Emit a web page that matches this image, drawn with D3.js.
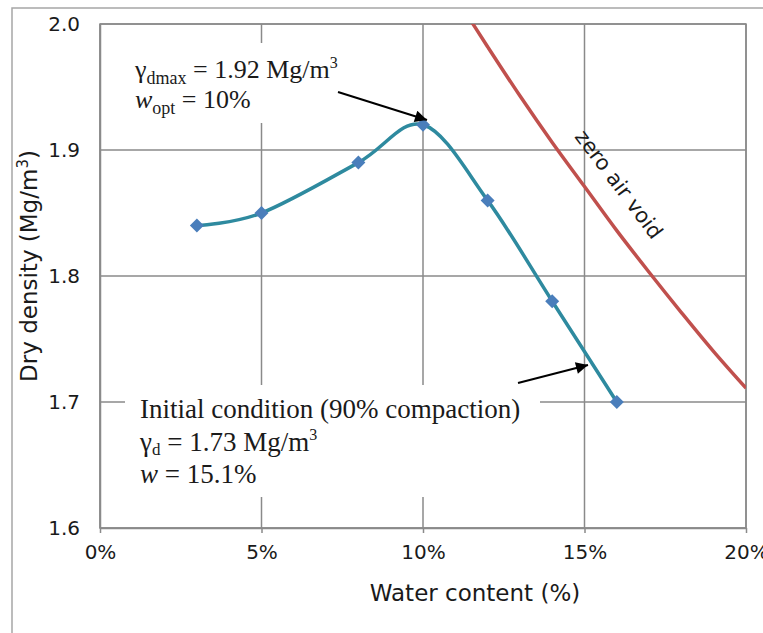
<!DOCTYPE html>
<html>
<head>
<meta charset="utf-8">
<script src="https://cdn.jsdelivr.net/npm/d3@7"></script>
<style>
  html, body { margin: 0; padding: 0; background: #fff; }
  svg { display: block; }
</style>
</head>
<body>
<svg id="chart" width="763" height="633"></svg>
<script>
// ---- data ----
const waterContent = [3, 5, 8, 10, 12, 14, 16];            // %
const dryDensity   = [1.84, 1.85, 1.89, 1.92, 1.86, 1.78, 1.70]; // Mg/m3
const zavWater     = [11, 12, 13, 14, 15, 16, 17, 18, 19, 20];
const zavDensity   = [2.022, 1.982, 1.943, 1.906, 1.871, 1.836, 1.803, 1.771, 1.740, 1.711];
const xTickValues  = [0, 5, 10, 15, 20];
const xTickLabels  = ["0%", "5%", "10%", "15%", "20%"];
const yTickValues  = [1.6, 1.7, 1.8, 1.9, 2.0];
const yTickLabels  = ["1.6", "1.7", "1.8", "1.9", "2.0"];

const svg = d3.select("#chart");
const L = 100, R = 746, T = 24, B = 528;
const x = d3.scaleLinear().domain([0, 20]).range([L, R]);
const y = d3.scaleLinear().domain([1.6, 2.0]).range([B, T]);
const grid = "#8a8a8a";
const sans = "'DejaVu Sans', Verdana, sans-serif";
const serif = "'Liberation Serif', 'Times New Roman', serif";

// outer chart frame
svg.append("rect").attr("x", 12).attr("y", 8).attr("width", 780).attr("height", 660)
  .attr("fill", "none").attr("stroke", "#a6a6a6").attr("stroke-width", 1.5);

// plot area border
svg.append("rect").attr("x", L).attr("y", T).attr("width", R - L).attr("height", B - T)
  .attr("fill", "none").attr("stroke", grid).attr("stroke-width", 1.5);

// gridlines
svg.append("g").selectAll("line").data(xTickValues).join("line")
  .attr("x1", d => x(d)).attr("x2", d => x(d)).attr("y1", T).attr("y2", B)
  .attr("stroke", grid).attr("stroke-width", 1.5);
svg.append("g").selectAll("line").data(yTickValues).join("line")
  .attr("x1", L).attr("x2", R).attr("y1", d => y(d)).attr("y2", d => y(d))
  .attr("stroke", grid).attr("stroke-width", 1.5);

// x axis
const xAxis = svg.append("g").attr("transform", `translate(0,${B})`)
  .call(d3.axisBottom(x).tickValues(xTickValues).tickFormat((d, i) => xTickLabels[i])
    .tickSizeInner(5).tickSizeOuter(0).tickPadding(12));
xAxis.select(".domain").attr("stroke", grid).attr("stroke-width", 1.5);
xAxis.selectAll(".tick line").attr("stroke", grid).attr("stroke-width", 1.5);
xAxis.selectAll(".tick text").attr("font-family", sans).attr("font-size", 20).attr("fill", "#1a1a1a");

// y axis
const yAxis = svg.append("g").attr("transform", `translate(${L},0)`)
  .call(d3.axisLeft(y).tickValues(yTickValues).tickFormat((d, i) => yTickLabels[i])
    .tickSize(0).tickPadding(20));
yAxis.select(".domain").attr("stroke", grid).attr("stroke-width", 1.5);
yAxis.selectAll(".tick text").attr("font-family", sans).attr("font-size", 20).attr("fill", "#1a1a1a");

// axis titles
svg.append("text").attr("x", 475).attr("y", 601).attr("text-anchor", "middle")
  .attr("font-family", sans).attr("font-size", 23).attr("fill", "#1a1a1a")
  .text("Water content (%)");
const yt = svg.append("text").attr("transform", "translate(37,266) rotate(-90)")
  .attr("text-anchor", "middle").attr("font-family", sans).attr("font-size", 23).attr("fill", "#1a1a1a");
yt.append("tspan").text("Dry density (Mg/m");
yt.append("tspan").attr("font-size", 15).attr("dy", -9).text("3");
yt.append("tspan").attr("dy", 9).text(")");

// white text-box backgrounds
svg.append("rect").attr("x", 125).attr("y", 43).attr("width", 270).attr("height", 80).attr("fill", "#fff");
svg.append("rect").attr("x", 125).attr("y", 385).attr("width", 415).attr("height", 112).attr("fill", "#fff");

// clip
svg.append("defs").append("clipPath").attr("id", "plotclip")
  .append("rect").attr("x", L).attr("y", T).attr("width", R - L).attr("height", B - T);

// zero air void curve
const zav = zavWater.map((w, i) => [w, zavDensity[i]]);
svg.append("path").datum(zav).attr("clip-path", "url(#plotclip)")
  .attr("fill", "none").attr("stroke", "#c0504d").attr("stroke-width", 3.5)
  .attr("d", d3.line().x(d => x(d[0])).y(d => y(d[1])).curve(d3.curveCatmullRom.alpha(0.5)));

svg.append("text").attr("transform", "translate(618,185) rotate(53)")
  .attr("text-anchor", "middle").attr("dominant-baseline", "middle")
  .attr("font-family", sans).attr("font-size", 21).attr("fill", "#1a1a1a")
  .text("zero air void");

// compaction curve
const comp = waterContent.map((w, i) => [w, dryDensity[i]]);
svg.append("path").datum(comp)
  .attr("fill", "none").attr("stroke", "#2e8a9f").attr("stroke-width", 3.5)
  .attr("d", d3.line().x(d => x(d[0])).y(d => y(d[1])).curve(d3.curveCardinal.tension(0)));
svg.append("g").selectAll("path").data(comp).join("path")
  .attr("transform", d => `translate(${x(d[0])},${y(d[1])})`)
  .attr("d", "M0,-7 L7,0 L0,7 L-7,0 Z").attr("fill", "#4a7ebb");

// arrows
svg.select("defs").append("marker").attr("id", "arr").attr("viewBox", "0 0 10 10")
  .attr("refX", 10).attr("refY", 5).attr("markerWidth", 7).attr("markerHeight", 6)
  .attr("markerUnits", "strokeWidth").attr("orient", "auto")
  .append("path").attr("d", "M0,0 L10,5 L0,10 Z").attr("fill", "#000");
svg.append("line").attr("x1", 338).attr("y1", 92).attr("x2", 427).attr("y2", 120)
  .attr("stroke", "#000").attr("stroke-width", 2).attr("marker-end", "url(#arr)");
svg.append("line").attr("x1", 518).attr("y1", 383).attr("x2", 588).attr("y2", 365)
  .attr("stroke", "#000").attr("stroke-width", 2).attr("marker-end", "url(#arr)");

// annotation text
function txt(xp, yp, size) {
  return svg.append("text").attr("x", xp).attr("y", yp).attr("font-family", serif)
    .attr("font-size", size).attr("fill", "#1a1a1a");
}
let t1 = txt(135, 78, 26);
t1.append("tspan").text("γ");
t1.append("tspan").attr("font-size", 18).attr("dy", 6).text("dmax");
t1.append("tspan").attr("dy", -6).text(" = 1.92 Mg/m");
t1.append("tspan").attr("font-size", 16).attr("dy", -10).text("3");
let t2 = txt(135, 108, 26);
t2.append("tspan").attr("font-style", "italic").text("w");
t2.append("tspan").attr("font-size", 18).attr("dy", 6).text("opt");
t2.append("tspan").attr("dy", -6).text(" = 10%");

txt(140, 418, 27).text("Initial condition (90% compaction)");
let t4 = txt(140, 451, 27);
t4.append("tspan").text("γ");
t4.append("tspan").attr("font-size", 17).attr("dy", 4).text("d");
t4.append("tspan").attr("dy", -4).text(" = 1.73 Mg/m");
t4.append("tspan").attr("font-size", 16).attr("dy", -11).text("3");
let t5 = txt(140, 483, 27);
t5.append("tspan").attr("font-style", "italic").text("w");
t5.append("tspan").text(" = 15.1%");
</script>
</body>
</html>
